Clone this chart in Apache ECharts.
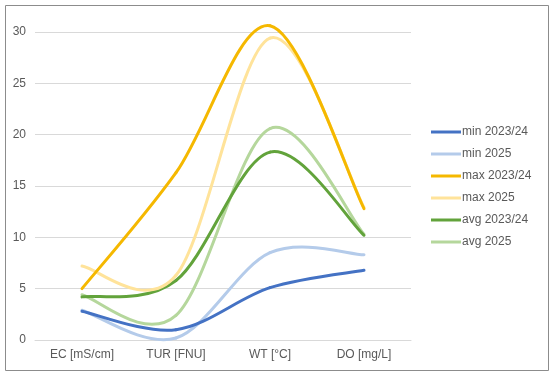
<!DOCTYPE html>
<html>
<head>
<meta charset="utf-8">
<script src="https://cdn.jsdelivr.net/npm/echarts@6/dist/echarts.min.js"></script>
<style>html,body{margin:0;padding:0;background:#fff}#c{width:550px;height:372px}</style>
</head>
<body>
<div id="c"></div>
<script>
var categories = ['EC [mS/cm]', 'TUR [FNU]', 'WT [°C]', 'DO [mg/L]'];
var min2324 = [2.8, 1.0, 5.1, 6.8];
var min2025 = [2.9, 0.2, 8.5, 8.3];
var max2324 = [5.0, 16.3, 30.6, 12.8];
var max2025 = [7.2, 6.3, 29.4, 12.9];
var avg2324 = [4.2, 5.8, 18.3, 10.2];
var avg2025 = [4.4, 2.4, 20.6, 10.3];
var seriesNames = ['min 2023/24', 'min 2025', 'max 2023/24', 'max 2025', 'avg 2023/24', 'avg 2025'];
var seriesData = [min2324, min2025, max2324, max2025, avg2324, avg2025];
var colors = ['#4472C4', '#B4CBEA', '#F5B800', '#FFE39A', '#62A33B', '#B5D79C'];

var font = '"Liberation Sans", Arial, sans-serif';

// Smooth line (Catmull-Rom style, as a spreadsheet draws it) built from
// points that are placed by the chart's own axes via api.coord.
function makeRenderer(vals, color) {
  return function (params, api) {
    var i = params.dataIndex;
    var n = vals.length;
    if (i >= n - 1) return null;
    function pt(k) {
      k = Math.max(0, Math.min(n - 1, k));
      return api.coord([k, vals[k]]);
    }
    var p0 = pt(i - 1), p1 = pt(i), p2 = pt(i + 1), p3 = pt(i + 2);
    var cp1 = [p1[0] + (p2[0] - p0[0]) / 6, p1[1] + (p2[1] - p0[1]) / 6];
    var cp2 = [p2[0] - (p3[0] - p1[0]) / 6, p2[1] - (p3[1] - p1[1]) / 6];
    return {
      type: 'bezierCurve',
      shape: {x1: p1[0], y1: p1[1], x2: p2[0], y2: p2[1],
              cpx1: cp1[0], cpy1: cp1[1], cpx2: cp2[0], cpy2: cp2[1]},
      style: {stroke: color, lineWidth: 3, fill: null, lineCap: 'round'},
      silent: true
    };
  };
}

var chart = echarts.init(document.getElementById('c'), null, {renderer: 'canvas'});
chart.setOption({
  animation: false,
  color: colors,
  grid: {left: 35, right: 139, top: 32, bottom: 32, containLabel: false},
  xAxis: {
    type: 'category', data: categories, boundaryGap: true,
    axisLine: {show: true, lineStyle: {color: '#D9D9D9', width: 1}},
    axisTick: {show: false},
    axisLabel: {color: '#595959', fontSize: 12, fontFamily: font, margin: 9}
  },
  yAxis: {
    type: 'value', min: 0, max: 30, interval: 5,
    axisLine: {show: false}, axisTick: {show: false},
    splitLine: {lineStyle: {color: '#D9D9D9', width: 1}},
    axisLabel: {color: '#595959', fontSize: 12, fontFamily: font, margin: 9}
  },
  legend: {
    orient: 'vertical', left: 426, top: 120,
    itemWidth: 30, itemHeight: 3, itemGap: 8, icon: 'rect',
    textStyle: {color: '#595959', fontSize: 12, fontFamily: font, lineHeight: 14, padding: [0, 0, 0, -4]},
    data: seriesNames
  },
  series: seriesNames.map(function (n, i) {
    return {
      name: n, type: 'custom', coordinateSystem: 'cartesian2d',
      data: seriesData[i].map(function (v, k) { return [k, v]; }),
      encode: {x: 0, y: 1},
      itemStyle: {color: colors[i]},
      renderItem: makeRenderer(seriesData[i], colors[i]),
      clip: false,
      z: 10 - i
    };
  }),
  graphic: [{
    type: 'rect', left: 3, top: 3, silent: true,
    shape: {x: 0, y: 0, width: 543, height: 365},
    style: {fill: 'none', stroke: '#8C8C8C', lineWidth: 1}
  }]
});
</script>
</body>
</html>
